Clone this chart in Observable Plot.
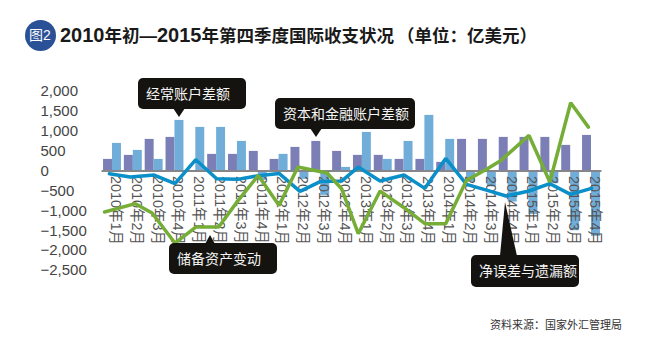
<!DOCTYPE html>
<html><head><meta charset="utf-8">
<script src="https://cdn.jsdelivr.net/npm/d3@7"></script>
<script src="https://cdn.jsdelivr.net/npm/@observablehq/plot@0.6"></script>
<style>
html,body{margin:0;padding:0;background:#fff;width:652px;height:354px;overflow:hidden;font-family:"Liberation Sans","Noto Sans CJK SC",sans-serif}
#head{position:relative;height:60px}
#badge{position:absolute;left:24.5px;top:19.5px;width:31px;height:31px;border-radius:50%;background:#2a5096;color:#fff;font-size:14px;line-height:31px;text-align:center}
#title{position:absolute;left:60px;top:22px;font-size:17.5px;line-height:26px;font-weight:bold;color:#1a1a1a;white-space:nowrap}
#title b{font-size:20px}
#title i{font-style:normal;padding:0 3px 0 3px}
#chart svg{display:block;overflow:visible}
#source{position:absolute;right:30px;top:318px;font-size:11px;line-height:14px;color:#333}
</style></head><body>
<div id="head"><div id="badge">图2</div><div id="title"><b>2010</b>年初—<b>2015</b>年第四季度国际收支状况<i>（单位：亿美元）</i></div></div>
<div id="chart"></div>
<div id="source">资料来源：国家外汇管理局</div>
<script>
const periods = ["2010年1月","2010年2月","2010年3月","2010年4月","2011年1月","2011年2月","2011年3月","2011年4月","2012年1月","2012年2月","2012年3月","2012年4月","2013年1月","2013年2月","2013年3月","2013年4月","2014年1月","2014年2月","2014年3月","2014年4月","2015年1月","2015年2月","2015年3月","2015年4月"];
const currentAccount = [293,394,796,846,0,419,419,494,293,595,745,494,394,394,293,293,218,796,796,846,846,846,645,896];
const capitalAccount = [695,519,293,1273,1097,1097,745,-235,419,-209,-611,92,971,293,745,1399,796,-276,-400,-780,-1090,-318,-1500,-1640];
const reserves = [-1030,-820,-1055,-1809,-1407,-1407,-762,-109,-863,100,-50,-444,-1575,-503,-921,-1323,-1323,-234,59,268,896,-276,1717,1105];
const reservesAt = [-0.38,0.1,-0.1,0,0,0.1,0,0,0,-0.1,0.3,0,-0.2,-0.15,0,0,0,0,0,-0.35,0,0,0,-0.15];
const errors = [-67,-151,-100,-318,285,-193,-209,-117,-59,-511,-260,-251,100,-251,-100,-435,318,-335,-486,-628,-502,-318,-586,-435];
const errorsAt = [-0.15,-0.15,0,0,0,0,0,0,0,0,0,0,-0.2,-0.15,0,0,0,0,0,-0.1,0,0,0,0];
const yTicks = [2000,1500,1000,500,0,-500,-1000,-1500,-2000,-2500];
const callouts = [
 {text:"经常账户差额", x:138,y:78,w:108,h:31, tip:[179,117], base:[173,185]},
 {text:"资本和金融账户差额", x:275,y:98,w:140,h:31, tip:[316,137], base:[310,322]},
 {text:"储备资产变动", x:169,y:243,w:108,h:31, tip:[210,235], base:[205,215]},
 {text:"净误差与遗漏额", x:471,y:255,w:108,h:32, tip:[505,202], base:[500,517]}
];
const TOP = 60;
const idx = periods.map((_,i)=>i);
const bw = 0.43;
function calloutMark(){
  const g = d3.create("svg:g");
  for (const c of callouts){
    const y = c.y-TOP, tipY = c.tip[1]-TOP;
    const baseY = tipY < y ? y+1 : y+c.h-1;
    g.append("path").attr("fill","#15130f").attr("d",`M${c.base[0]},${baseY}L${c.tip[0]},${tipY}L${c.base[1]},${baseY}Z`);
    g.append("rect").attr("x",c.x).attr("y",y).attr("width",c.w).attr("height",c.h).attr("rx",5).attr("fill","#15130f");
    g.append("text").attr("x",c.x+8).attr("y",y+c.h/2).attr("dy","0.36em").attr("text-anchor","start").attr("fill","#f4f4f4").attr("font-size",14).attr("font-family",'"Noto Sans CJK SC",sans-serif').text(c.text);
  }
  return g.node();
}
const chart = Plot.plot({
  width:652,height:230,marginTop:31,marginBottom:20,marginLeft:40,marginRight:0,
  style:{background:"transparent",fontFamily:'"Liberation Sans","Noto Sans CJK SC",sans-serif'},
  x:{domain:[0,23],range:[112,591],axis:null},
  y:{domain:[-2500,2000],axis:null},
  marks:[
    Plot.rectY(idx,{x1:i=>i-bw,x2:i=>i,y1:()=>0,y2:i=>currentAccount[i],fill:"#7b7fb5"}),
    Plot.rectY(idx,{x1:i=>i,x2:i=>i+bw,y1:()=>0,y2:i=>capitalAccount[i],fill:"#71add9"}),
    Plot.ruleY([0],{x1:-0.5,x2:23.5,stroke:"#85858a",strokeWidth:2}),
    Plot.text(yTicks,{y:d=>d,text:d=>d3.format(",")(d).replace("-","−"),frameAnchor:"left",textAnchor:"start",fontSize:15,fill:"#444"}),
    Plot.text(idx,{x:i=>i,y:()=>0,text:i=>periods[i],rotate:90,textAnchor:"start",dx:3,dy:5,fontSize:14.4,fill:"#555",lineAnchor:"middle"}),
    Plot.line(idx,{x:i=>i+errorsAt[i],y:i=>errors[i],stroke:"#0a8fc9",strokeWidth:3.5,curve:"linear",strokeLinejoin:"miter"}),
    Plot.line(idx,{x:i=>i+reservesAt[i],y:i=>reserves[i],stroke:"#76ad37",strokeWidth:3.5,curve:"linear",strokeLinejoin:"miter"}),
    calloutMark
  ]
});
document.getElementById("chart").append(chart);
</script></body></html>
